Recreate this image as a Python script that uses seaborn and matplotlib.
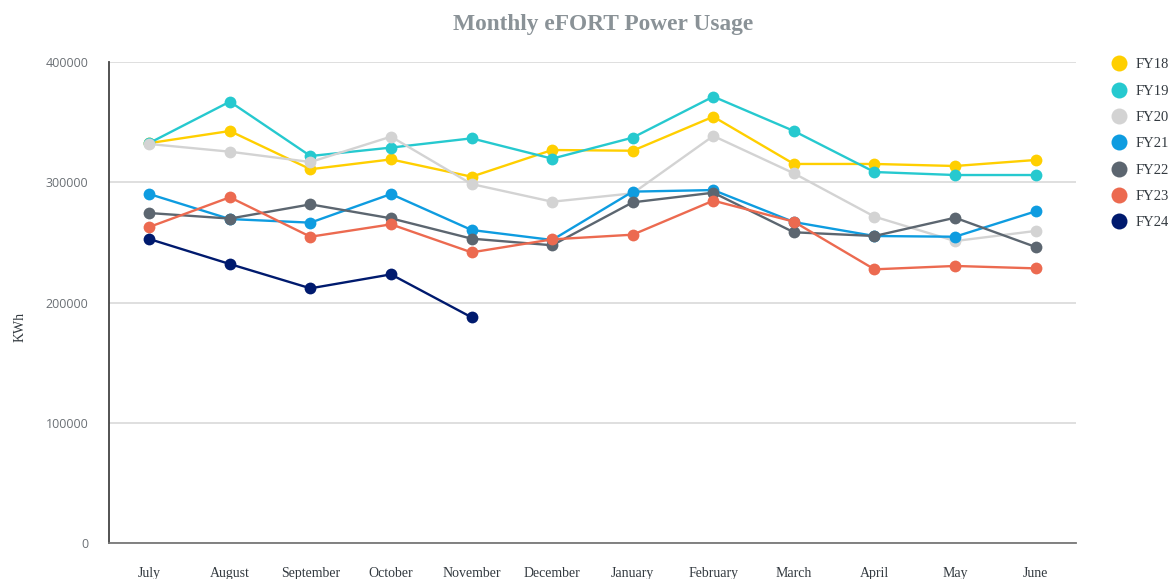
import pandas as pd
import matplotlib
matplotlib.use("Agg")
import matplotlib.pyplot as plt
from matplotlib.lines import Line2D
import seaborn as sns

months = ["July", "August", "September", "October", "November", "December",
          "January", "February", "March", "April", "May", "June"]

fy18 = [332500, 342600, 310800, 319000, 304600, 326800, 326200, 354500, 315200, 315200, 313500, 318500]
fy19 = [332600, 367000, 321800, 328800, 336500, 319600, 337100, 371200, 342600, 308500, 306000, 306000]
fy20 = [331800, 325400, 316800, 337900, 298500, 283800, 290800, 338500, 307400, 271400, 251100, 259500]
fy21 = [290200, 269400, 266400, 290200, 260300, 252000, 292200, 293500, 266900, 255300, 254700, 275800]
fy22 = [274400, 269800, 281600, 270000, 253100, 247600, 283300, 291300, 258400, 255300, 270500, 246200]
fy23 = [262800, 287500, 254700, 265000, 241700, 252500, 256400, 284700, 267200, 227600, 230400, 228400]
fy24 = [252800, 232000, 211800, 223400, 187700]

series = {"FY18": fy18, "FY19": fy19, "FY20": fy20, "FY21": fy21,
          "FY22": fy22, "FY23": fy23, "FY24": fy24}
colors = ["#FFCF00", "#26C9CF", "#D3D3D3", "#0E9CE0", "#5C6670", "#EC6A50", "#001A6E"]

rows = []
for fy, vals in series.items():
    for m, v in zip(months, vals):
        rows.append({"month": m, "kwh": v, "FY": fy})
df = pd.DataFrame(rows)

sns.set_style("white")
fig, ax = plt.subplots(figsize=(11.72, 5.79), dpi=100)
fig.subplots_adjust(left=0.093, right=0.918, bottom=0.062, top=0.893)

ax.yaxis.grid(True, color="#d9d9d9", linewidth=1.2)
ax.set_axisbelow(True)

sns.lineplot(data=df, x="month", y="kwh", hue="FY", palette=colors, marker="o",
             markersize=8.5, markeredgewidth=0, linewidth=1.7, sort=False,
             legend=False, ax=ax)

ax.set_xlim(-0.5, 11.5)
ax.set_ylim(0, 400000)
ax.set_yticks([0, 100000, 200000, 300000, 400000])
ax.set_yticklabels(["0", "100000", "200000", "300000", "400000"])

for s in ["top", "right"]:
    ax.spines[s].set_visible(False)
ax.spines["left"].set_color("#444444")
ax.spines["left"].set_linewidth(1.3)
ax.spines["bottom"].set_color("#777777")
ax.spines["bottom"].set_linewidth(1.3)

ax.tick_params(axis="y", direction="out", length=9, width=1.3, color="#444444",
               labelsize=9, labelcolor="#6b7075", pad=6)
ax.tick_params(axis="x", direction="out", length=11, width=1.3, color="#444444",
               labelsize=10, labelcolor="#333a40", pad=6)
for lbl in ax.get_yticklabels():
    lbl.set_family("Open Sans")
for lbl in ax.get_xticklabels():
    lbl.set_family("Liberation Serif")

ax.set_xlabel("")
ax.set_ylabel("KWh", family="Liberation Serif", fontsize=10, color="#333a40")
ax.yaxis.set_label_coords(-0.085, 0.45)

fig.suptitle("Monthly eFORT Power Usage", family="Liberation Serif", fontweight="bold",
             fontsize=16.8, color="#8a9297", x=0.515, y=0.975)

handles = [Line2D([], [], linestyle="none", marker="o", markersize=11.5,
                  markerfacecolor=c, markeredgewidth=0) for c in colors]
leg = ax.legend(handles, list(series.keys()), loc="upper left",
                bbox_to_anchor=(1.016, 1.035), frameon=False, handletextpad=0.1,
                labelspacing=0.9, prop={"family": "Liberation Serif", "size": 10.5})
for t in leg.get_texts():
    t.set_color("#333a40")

fig.savefig("out.png", dpi=100)
